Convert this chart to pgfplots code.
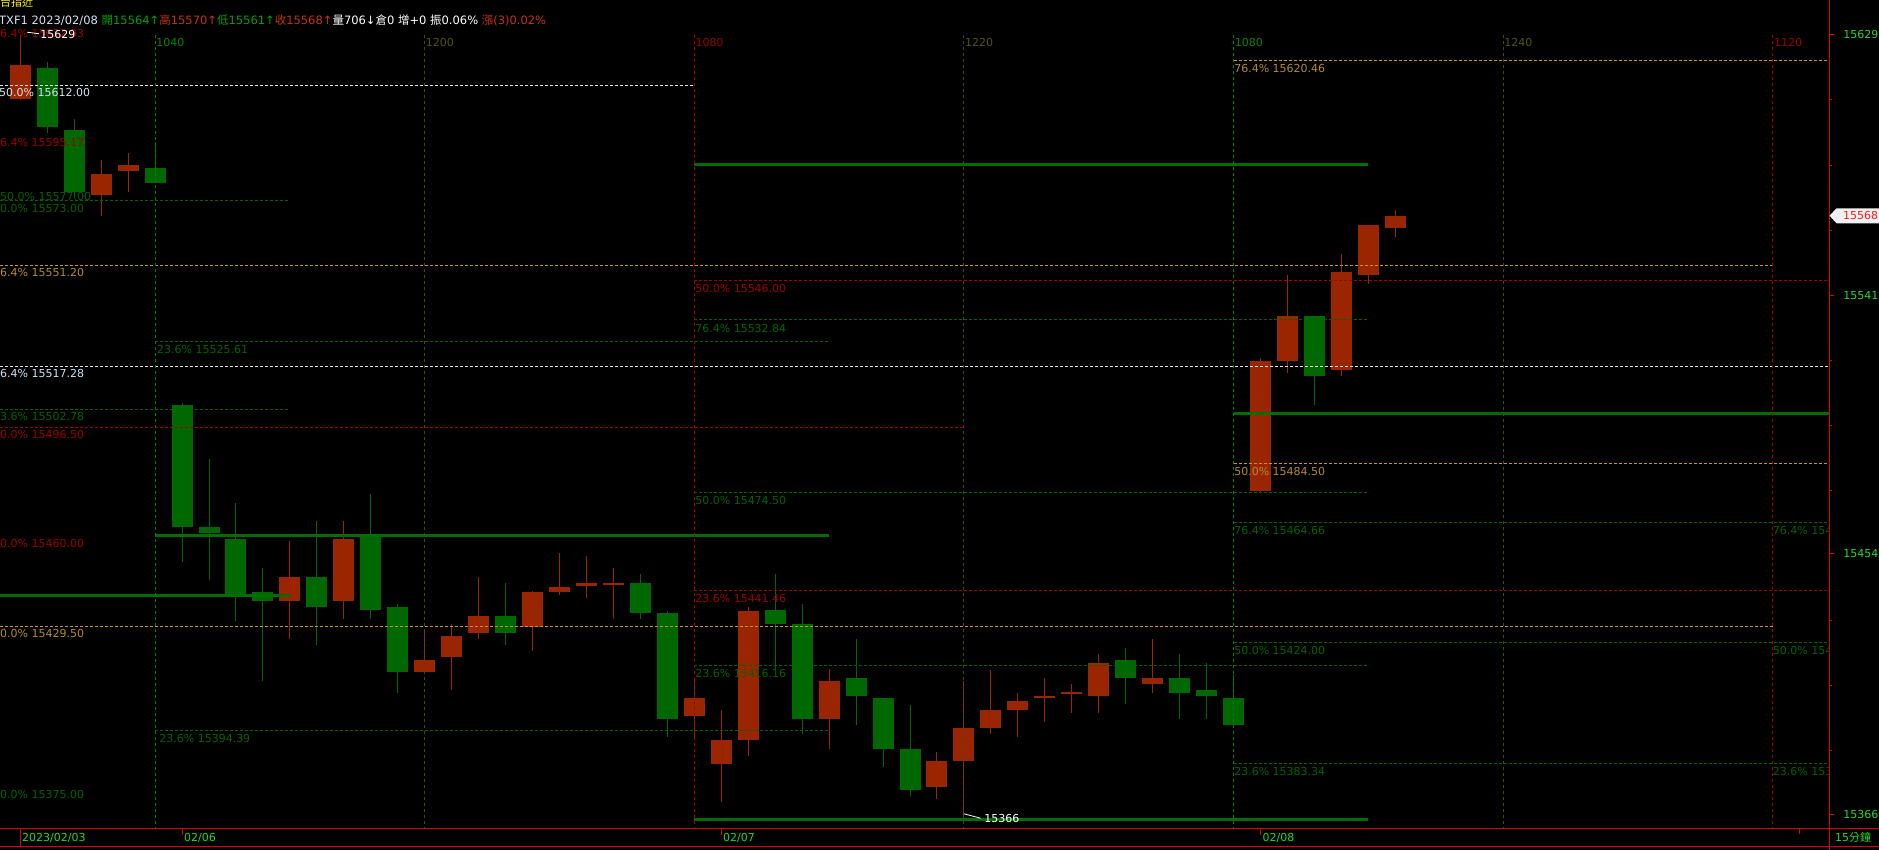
\documentclass[border=0pt]{standalone}
\usepackage{pgfplots}
\pgfplotsset{compat=1.18}
\usepackage{pgfplotstable}
\usepackage{fontspec}
\setmainfont{DejaVu Sans}
\newfontfamily\cjk{Noto Sans CJK TC}
\definecolor{upc}{RGB}{153,38,0}
\definecolor{dnc}{RGB}{0,104,0}
\definecolor{fibg}{RGB}{0,100,0}
\definecolor{fibgt}{RGB}{0,100,0}
\definecolor{fibr}{RGB}{165,0,0}
\definecolor{fibrt}{RGB}{155,0,0}
\definecolor{fibo}{RGB}{200,150,30}
\definecolor{fibot}{RGB}{180,140,40}
\definecolor{fibw}{RGB}{225,225,225}
\definecolor{fibwt}{RGB}{210,225,240}
\definecolor{vgreen}{RGB}{0,135,0}
\definecolor{volive}{RGB}{75,75,0}
\definecolor{voliveT}{RGB}{85,85,10}
\definecolor{solidg}{RGB}{0,110,0}
\definecolor{axred}{RGB}{220,0,0}
\definecolor{brightg}{RGB}{40,215,40}
\definecolor{hdrw}{RGB}{210,225,245}
\definecolor{hdrg}{RGB}{0,160,0}
\definecolor{hdrr}{RGB}{200,50,20}
\definecolor{tagbg}{RGB}{240,240,240}
\newcommand\lf{\fontsize{11}{13}\selectfont}
\newcommand\hf{\fontsize{11.5}{13}\selectfont}

% candle data: index, open, high, low, close
\pgfplotstableread{
i o h l c
0 15607.3 15629.0 15607.0 15618.8
3 15575.1 15587.0 15568.0 15582.1
4 15583.2 15589.2 15576.1 15585.1
10 15438.2 15458.3 15425.4 15446.2
12 15438.2 15465.0 15432.1 15459.0
15 15414.2 15428.3 15414.0 15418.2
16 15419.3 15430.3 15408.2 15426.3
17 15427.4 15446.2 15425.4 15433.0
19 15429.4 15441.5 15421.3 15441.1
20 15441.2 15454.2 15440.2 15443.1
21 15443.2 15453.2 15439.2 15444.1
22 15443.8 15449.2 15432.1 15444.1
25 15399.4 15411.4 15391.8 15405.4
26 15383.2 15401.3 15370.4 15391.2
27 15391.3 15436.2 15386.1 15435.0
30 15398.4 15415.1 15388.3 15411.1
34 15375.4 15387.1 15371.4 15384.1
35 15384.2 15411.1 15366.0 15395.2
36 15395.3 15415.1 15393.3 15401.3
37 15401.4 15407.0 15392.3 15404.3
38 15405.5 15412.1 15397.4 15406.0
39 15406.9 15410.1 15400.3 15407.1
40 15406.1 15420.2 15400.4 15417.2
42 15410.2 15425.3 15407.2 15412.1
46 15475.2 15520.0 15474.6 15519.0
47 15519.0 15548.0 15515.1 15534.2
49 15516.1 15555.1 15514.1 15549.0
50 15548.1 15564.9 15545.1 15564.9
51 15564.0 15570.0 15561.0 15568.0
}\upcandles

\pgfplotstableread{
i o h l c
1 15617.8 15620.0 15596.1 15598.0
2 15596.9 15600.9 15574.0 15576.1
5 15584.1 15592.7 15579.2 15579.2
6 15504.2 15505.1 15451.3 15463.1
7 15463.0 15486.0 15445.3 15461.1
8 15459.0 15471.1 15431.4 15440.6
9 15441.1 15449.2 15411.2 15438.2
11 15446.2 15465.0 15423.2 15436.2
13 15460.0 15474.1 15432.1 15435.1
14 15436.0 15437.0 15407.2 15414.2
18 15433.0 15444.1 15423.3 15427.4
23 15444.1 15447.2 15432.1 15434.1
24 15434.0 15435.0 15392.3 15398.4
28 15435.0 15447.2 15415.4 15430.4
29 15430.3 15437.1 15393.3 15398.4
31 15412.1 15425.3 15396.4 15406.1
32 15405.4 15405.4 15382.2 15388.3
33 15388.1 15403.3 15372.4 15374.4
41 15418.2 15422.2 15403.4 15412.2
43 15412.1 15420.2 15398.4 15407.2
44 15408.1 15417.2 15398.4 15406.1
45 15405.4 15413.1 15396.4 15396.4
48 15534.2 15534.2 15504.3 15514.1
}\dncandles

\pgfplotsset{
  fg/.style={fibg, line width=1pt, dash pattern=on 3pt off 2pt, forget plot},
  fr/.style={fibr, line width=1pt, dash pattern=on 3pt off 2pt, forget plot},
  fo/.style={fibo, line width=1pt, dash pattern=on 3pt off 2pt, forget plot},
  fw/.style={fibw, line width=1pt, dash pattern=on 3pt off 2pt, forget plot},
  sg/.style={solidg, line width=3pt, forget plot},
  vl/.style={line width=1pt, dash pattern=on 3pt off 3pt, forget plot},
  candle/.style 2 args={forget plot, draw=none, mark=none, no markers,
    error bars/.cd, y dir=both, y explicit, error mark=none,
    error bar style={draw=#1, line width=#2}},
}
\tikzset{
  ll/.style={anchor=west, inner sep=0pt, font=\lf},
  lsh/.style={yshift=-8pt},
}

\begin{document}
\begin{tikzpicture}[x=1pt,y=1pt]
\fill[black] (0,0) rectangle (1879,850);
\begin{scope}
\clip (0,0) rectangle (1879,850);
\begin{axis}[
  at={(0pt,22pt)}, anchor=south west,
  scale only axis, width=1829pt, height=828pt,
  xmin=-0.753, xmax=67.088, ymin=15361.51, ymax=15640.77,
  axis x line=none, axis y line*=right,
  axis line style={draw=axred, line width=1pt},
  ytick={15366,15454,15541,15629},
  yticklabels={15366,15454,15541,15629},
  minor ytick={15607.05,15585.1,15563.15,15519.25,15497.3,15475.35,15431.45,15409.5,15387.55},
  tick align=outside,
  major tick length=5pt, minor tick length=2.5pt,
  tick style={draw=axred, line width=1pt},
  yticklabel style={font=\lf, text=brightg, anchor=west, inner sep=0pt, xshift=9pt},
  clip mode=global,
]
% ---- candles: wicks then bodies
\addplot[candle={upc}{1pt}]
  table[x=i, y expr={(\thisrow{h}+\thisrow{l})/2}, y error expr={(\thisrow{h}-\thisrow{l})/2}] {\upcandles};
\addplot[candle={dnc}{1pt}]
  table[x=i, y expr={(\thisrow{h}+\thisrow{l})/2}, y error expr={(\thisrow{h}-\thisrow{l})/2}] {\dncandles};
\addplot[candle={upc}{21pt}]
  table[x=i, y expr={(\thisrow{o}+\thisrow{c})/2}, y error expr={max(abs(\thisrow{c}-\thisrow{o})/2,0.25)}] {\upcandles};
\addplot[candle={dnc}{21pt}]
  table[x=i, y expr={(\thisrow{o}+\thisrow{c})/2}, y error expr={max(abs(\thisrow{c}-\thisrow{o})/2,0.25)}] {\dncandles};

% ---- dashed level lines
\addplot[fw] coordinates {(-0.753,15612.00) (25,15612.00)};
\addplot[fg] coordinates {(-0.753,15573.00) (10,15573.00)};
\addplot[fo] coordinates {(-0.753,15551.20) (65,15551.20)};
\addplot[fr] coordinates {(25,15546.00) (67.2,15546.00)};
\addplot[fg] coordinates {(25,15532.84) (50,15532.84)};
\addplot[fg] coordinates {(5,15525.61) (30,15525.61)};
\addplot[fw] coordinates {(-0.753,15517.28) (67.2,15517.28)};
\addplot[fg] coordinates {(-0.753,15502.78) (10,15502.78)};
\addplot[fr] coordinates {(-0.753,15496.50) (35,15496.50)};
\addplot[fo] coordinates {(45,15484.50) (67.2,15484.50)};
\addplot[fg] coordinates {(25,15474.50) (50,15474.50)};
\addplot[fg] coordinates {(45,15464.66) (67.2,15464.66)};
\addplot[fr] coordinates {(25,15441.46) (67.2,15441.46)};
\addplot[fo] coordinates {(-0.753,15429.50) (65,15429.50)};
\addplot[fg] coordinates {(45,15424.00) (67.2,15424.00)};
\addplot[fg] coordinates {(25,15416.16) (50,15416.16)};
\addplot[fg] coordinates {(5,15394.39) (30,15394.39)};
\addplot[fg] coordinates {(45,15383.34) (67.2,15383.34)};
\addplot[fo] coordinates {(45,15620.46) (67.2,15620.46)};
% ---- solid lines
\addplot[sg] coordinates {(25,15585.2) (50,15585.2)};
\addplot[sg] coordinates {(45,15501.2) (67.2,15501.2)};
\addplot[sg] coordinates {(5,15460) (30,15460)};
\addplot[sg] coordinates {(-0.753,15440) (10,15440)};
\addplot[sg] coordinates {(25,15364.4) (50,15364.4)};
% ---- vertical time lines
\addplot[vl, vgreen] coordinates {(5,15628.96) (5,15361.51)};
\addplot[vl, volive] coordinates {(15,15628.96) (15,15361.51)};
\addplot[vl, fibr] coordinates {(25,15628.96) (25,15361.51)};
\addplot[vl, volive] coordinates {(35,15628.96) (35,15361.51)};
\addplot[vl, vgreen] coordinates {(45,15628.96) (45,15361.51)};
\addplot[vl, volive] coordinates {(55,15628.96) (55,15361.51)};
\addplot[vl, fibr] coordinates {(65,15628.96) (65,15361.51)};

% ---- level labels (on top)
\node[ll, fibrt] at (axis cs:-1.013,15629.54) {76.4\% 15632.93};
\node[ll, fibwt] at (axis cs:-0.79,15609.50) {50.0\% 15612.00};
\node[ll, fibrt] at (axis cs:-1.013,15592.64) {76.4\% 15595.17};
\node[ll, fibgt] at (axis cs:-0.753,15574.33) {50.0\% 15577.00};
\node[ll, fibgt] at (axis cs:-0.753,15570.28) {0.0\% 15573.00};
\node[ll, fibot] at (axis cs:-1.013,15548.80) {76.4\% 15551.20};
\node[ll, fibwt] at (axis cs:-1.013,15514.63) {76.4\% 15517.28};
\node[ll, fibgt] at (axis cs:-1.013,15500.13) {23.6\% 15502.78};
\node[ll, fibrt] at (axis cs:-0.753,15494.16) {0.0\% 15496.50};
\node[ll, fibrt] at (axis cs:-0.753,15457.63) {0.0\% 15460.00};
\node[ll, fibot] at (axis cs:-0.753,15426.94) {0.0\% 15429.50};
\node[ll, fibgt] at (axis cs:-0.753,15372.74) {0.0\% 15375.00};
\node[ll, lsh, fibgt] at (axis cs:5.07,15525.61) {23.6\% 15525.61};
\node[ll, lsh, fibgt] at (axis cs:5.15,15394.39) {23.6\% 15394.39};
\node[ll, lsh, fibrt] at (axis cs:25.03,15546.00) {50.0\% 15546.00};
\node[ll, lsh, fibgt] at (axis cs:25.03,15532.84) {76.4\% 15532.84};
\node[ll, lsh, fibgt] at (axis cs:25.03,15474.50) {50.0\% 15474.50};
\node[ll, lsh, fibrt] at (axis cs:25.03,15441.46) {23.6\% 15441.46};
\node[ll, lsh, fibgt] at (axis cs:25.03,15416.16) {23.6\% 15416.16};
\node[ll, lsh, fibot] at (axis cs:45.02,15620.46) {76.4\% 15620.46};
\node[ll, lsh, fibot] at (axis cs:45.02,15484.50) {50.0\% 15484.50};
\node[ll, lsh, fibgt] at (axis cs:45.02,15464.66) {76.4\% 15464.66};
\node[ll, lsh, fibgt] at (axis cs:45.02,15424.00) {50.0\% 15424.00};
\node[ll, lsh, fibgt] at (axis cs:45.02,15383.34) {23.6\% 15383.34};
\node[ll, lsh, fibgt] at (axis cs:65.0,15464.66) {76.4\% 15464.66};
\node[ll, lsh, fibgt] at (axis cs:65.0,15424.00) {50.0\% 15424.00};
\node[ll, lsh, fibgt] at (axis cs:65.0,15383.34) {23.6\% 15383.34};
% vertical line labels
\node[ll, vgreen] at (axis cs:5.04,15626.37) {1040};
\node[ll, voliveT] at (axis cs:15.04,15626.37) {1200};
\node[ll, fibrt] at (axis cs:25.04,15626.37) {1080};
\node[ll, voliveT] at (axis cs:35.04,15626.37) {1220};
\node[ll, vgreen] at (axis cs:45.04,15626.37) {1080};
\node[ll, voliveT] at (axis cs:55.04,15626.37) {1240};
\node[ll, fibrt] at (axis cs:65.04,15626.37) {1120};
% ---- high / low markers
\draw[white, line width=0.8pt] (axis cs:0.25,15629.9) -- (axis cs:0.69,15629.4);
\node[ll, white] at (axis cs:0.74,15629.2) {15629};
\draw[white, line width=0.8pt] (axis cs:35,15366.3) -- (axis cs:35.62,15364.8);
\node[ll, white] at (axis cs:35.75,15364.85) {15366};
\end{axis}

% ---- header
\node[anchor=west, inner sep=0pt, font=\lf, text=yellow] at (0,848) {\cjk 台指近};
\node[anchor=west, inner sep=0pt, font=\hf] at (-1,829.3) {\color{hdrw}TXF1 2023/02/08 \color{hdrg}{\cjk 開}15564↑\color{hdrr}{\cjk 高}15570↑\color{hdrg}{\cjk 低}15561↑\color{hdrr}{\cjk 收}15568↑\color{white}{\cjk 量}706↓{\cjk 倉}0 {\cjk 增}+0 {\cjk 振}0.06\% \color{hdrr}{\cjk 漲}(3)0.02\%};

% ---- frame and date strip
\draw[axred, line width=1pt] (0,21) -- (1879,21);
\draw[axred, line width=1pt] (0,3) -- (1879,3);
\draw[axred, line width=1pt] (1829,0) -- (1829,850);
\draw[axred, line width=1pt] (20.5,3) -- (20.5,21);
\draw[axred, line width=1pt] (182.6,21) -- (182.6,15);
\draw[axred, line width=1pt] (721.5,21) -- (721.5,15);
\draw[axred, line width=1pt] (1260.5,21) -- (1260.5,15);
\draw[axred, line width=1pt] (1799,21) -- (1799,16);
\node[anchor=west, inner sep=0pt, font=\lf, text=brightg] at (22,12.3) {2023/02/03};
\node[anchor=west, inner sep=0pt, font=\lf, text=brightg] at (184,12.3) {02/06};
\node[anchor=west, inner sep=0pt, font=\lf, text=brightg] at (723,12.3) {02/07};
\node[anchor=west, inner sep=0pt, font=\lf, text=brightg] at (1262.5,12.3) {02/08};
\node[anchor=west, inner sep=0pt, font=\lf, text=brightg] at (1835,12.3) {15{\cjk 分鐘}};

% ---- last price tag
\fill[tagbg] (1829.5,634.3) -- (1836.5,641.7) -- (1879,641.7) -- (1879,626.7) -- (1836.5,626.7) -- cycle;
\node[anchor=west, inner sep=0pt, font=\lf, text={rgb,255:red,245;green,30;blue,30}] at (1843,634.3) {15568};
\end{scope}
\pgfresetboundingbox
\useasboundingbox (0,0) rectangle (1879,850);
\end{tikzpicture}
\end{document}
